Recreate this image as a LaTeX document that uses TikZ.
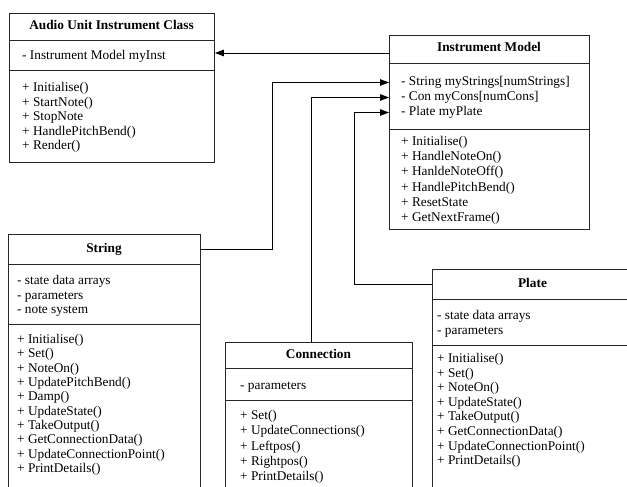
\documentclass[tikz,border=0pt]{standalone}
\usepackage{fontspec}
\setmainfont{Liberation Serif}
\usetikzlibrary{arrows.meta}
\begin{document}
\begin{tikzpicture}[x=1pt,y=-1pt,
  box/.style={draw=black!85, line width=0.9pt, anchor=north west, inner sep=0pt},
  sep/.style={draw=black!85, line width=0.9pt},
  ttl/.style={font=\fontsize{13.3}{14.6}\selectfont\bfseries, inner sep=0pt, text height=9pt, text depth=3pt},
  txt/.style={font=\fontsize{13.3}{14.6}\selectfont, inner sep=0pt, anchor=base west, text height=9pt, text depth=3pt},
  conn/.style={draw=black, line width=0.9pt},
  arr/.style={conn, -{Triangle[length=9pt,width=6.5pt]}}]
\useasboundingbox (0,0) rectangle (627,487);
\clip (0,0) rectangle (627,487);

% Audio Unit Instrument Class
\node[box, minimum width=205pt, minimum height=149pt] (au) at (9,13) {};
\node[ttl] (auT) at (111.5,26.5) {Audio Unit Instrument Class};
\draw[sep] (9,40) -- (214,40);
\draw[sep] (9,70) -- (214,70);
\node[txt] (auA1) at (22,59.5) {- Instrument Model myInst};
\foreach \t [count=\i from 0] in {{+ Initialise()},{+ StartNote()},{+ StopNote},{+ HandlePitchBend()},{+ Render()}}
  \node[txt] (auM\i) at (22,91.5+14.6*\i) {\t};

% Instrument Model
\node[box, minimum width=200pt, minimum height=194pt] (im) at (389,35) {};
\node[ttl] (imT) at (489,49) {Instrument Model};
\draw[sep] (389,63) -- (589,63);
\draw[sep] (389,129) -- (589,129);
\node[txt] (imA1) at (401,85.5) {- String myStrings[numStrings]};
\node[txt] (imA2) at (401,100.5) {- Con myCons[numCons]};
\node[txt] (imA3) at (401,115.5) {- Plate myPlate};
\foreach \t [count=\i from 0] in {{+ Initialise()},{+ HandleNoteOn()},{+ HanldeNoteOff()},{+ HandlePitchBend()},{+ ResetState},{+ GetNextFrame()}}
  \node[txt] (imM\i) at (401,145.5+15.2*\i) {\t};

% String
\node[box, minimum width=192pt, minimum height=300pt] (str) at (8,234) {};
\node[ttl] (strT) at (104,249) {String};
\draw[sep] (8,264) -- (200,264);
\draw[sep] (8,324) -- (200,324);
\foreach \t [count=\i from 0] in {{- state data arrays},{- parameters},{- note system}}
  \node[txt] (strA\i) at (17,284.5+14.5*\i) {\t};
\foreach \t [count=\i from 0] in {{+ Initialise()},{+ Set()},{+ NoteOn()},{+ UpdatePitchBend()},{+ Damp()},{+ UpdateState()},{+ TakeOutput()},{+ GetConnectionData()},{+ UpdateConnectionPoint()},{+ PrintDetails()}}
  \node[txt] (strM\i) at (17,343.5+14.33*\i) {\t};

% Connection
\node[box, minimum width=187pt, minimum height=200pt] (con) at (225,342) {};
\node[ttl] (conT) at (318.5,355) {Connection};
\draw[sep] (225,368) -- (412,368);
\draw[sep] (225,400) -- (412,400);
\node[txt] (conA1) at (240,389.5) {- parameters};
\foreach \t [count=\i from 0] in {{+ Set()},{+ UpdateConnections()},{+ Leftpos()},{+ Rightpos()},{+ PrintDetails()}}
  \node[txt] (conM\i) at (240,419.5+15.25*\i) {\t};

% Plate
\node[box, minimum width=201pt, minimum height=250pt] (pl) at (432,269) {};
\node[ttl] (plT) at (532.5,284) {Plate};
\draw[sep] (432,299) -- (633,299);
\draw[sep] (432,345) -- (633,345);
\foreach \t [count=\i from 0] in {{- state data arrays},{- parameters}}
  \node[txt] (plA\i) at (437,319.5+15*\i) {\t};
\foreach \t [count=\i from 0] in {{+ Initialise()},{+ Set()},{+ NoteOn()},{+ UpdateState()},{+ TakeOutput()},{+ GetConnectionData()},{+ UpdateConnectionPoint()},{+ PrintDetails()}}
  \node[txt] (plM\i) at (437,362.5+14.6*\i) {\t};

% connectors
\coordinate (imL) at (389,53);
\draw[arr] (imL) -- (au.east |- imL);
\draw[arr] (str.east |- strT) -- ++(72,0) |- (im.west |- imA1);
\draw[arr] ([xshift=-7.5pt]con.north) |- (im.west |- imA2);
\draw[arr] (pl.west |- plT) -- ++(-78,0) |- (im.west |- imA3);
\end{tikzpicture}
\end{document}
